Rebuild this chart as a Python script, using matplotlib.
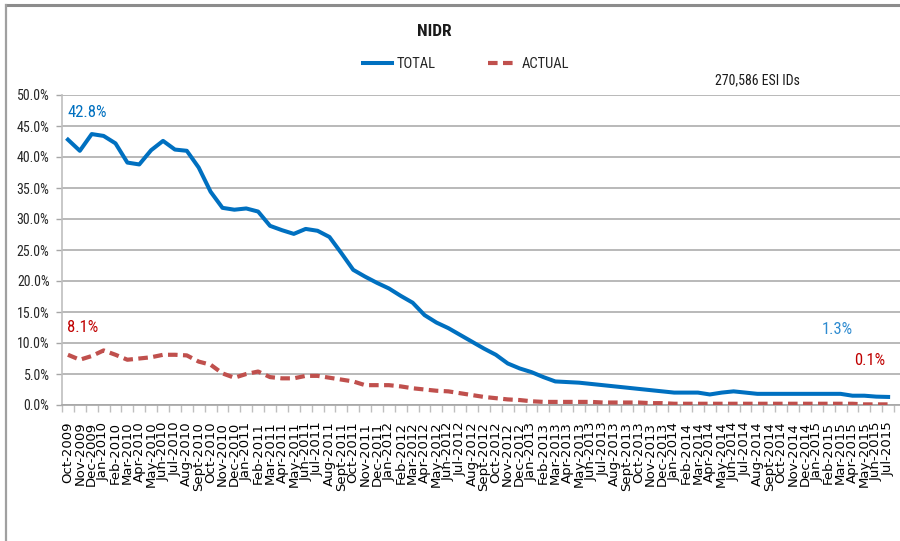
import numpy as np
import matplotlib
matplotlib.use("Agg")
import matplotlib.pyplot as plt
from matplotlib.lines import Line2D
from matplotlib.ticker import FixedLocator, PercentFormatter
from matplotlib import font_manager

#=========================================================================================
month_names = ['Jan', 'Feb', 'Mar', 'Apr', 'May', 'Jun', 'Jul', 'Aug', 'Sept', 'Oct', 'Nov', 'Dec']
months = []
for year in range(2009, 2016):
    for m, name in enumerate(month_names):
        if (year == 2009 and m < 9) or (year == 2015 and m > 6):
            continue
        months.append(name + '-' + str(year))

total = [42.8, 41.0, 43.7, 43.4, 42.2, 39.1, 38.8, 41.1, 42.6, 41.2,
         41.0, 38.3, 34.4, 31.8, 31.5, 31.7, 31.2, 28.9, 28.2, 27.6,
         28.4, 28.1, 27.1, 24.5, 21.8, 20.7, 19.7, 18.8, 17.6, 16.5,
         14.5, 13.3, 12.4, 11.3, 10.2, 9.1, 8.1, 6.7, 5.9, 5.3,
         4.5, 3.8, 3.7, 3.6, 3.4, 3.2, 3.0, 2.8, 2.6, 2.4,
         2.2, 2.0, 2.0, 2.0, 1.7, 2.0, 2.2, 2.0, 1.8, 1.8,
         1.8, 1.8, 1.8, 1.8, 1.8, 1.8, 1.5, 1.5, 1.35, 1.3]

actual = [8.1, 7.3, 7.9, 8.8, 8.1, 7.3, 7.5, 7.7, 8.1, 8.1,
          8.0, 7.0, 6.5, 5.1, 4.4, 5.0, 5.4, 4.5, 4.3, 4.3,
          4.7, 4.7, 4.4, 4.1, 3.8, 3.2, 3.2, 3.2, 3.0, 2.7,
          2.5, 2.3, 2.2, 1.9, 1.6, 1.3, 1.1, 0.9, 0.8, 0.6,
          0.5, 0.5, 0.5, 0.5, 0.5, 0.4, 0.4, 0.4, 0.4, 0.3,
          0.3, 0.2, 0.2, 0.2, 0.2, 0.2, 0.2, 0.2, 0.2, 0.2,
          0.2, 0.2, 0.2, 0.2, 0.2, 0.2, 0.2, 0.1, 0.1, 0.1]

title = 'NIDR'
note = '270,586 ESI IDs'

blue = '#0070C0'
red = '#C0504D'
dark_red = '#C00000'

#=========================================================================================
# pick a narrow face if one is installed
installed = {f.name for f in font_manager.fontManager.ttflist}
narrow_face = None
for name in ['Liberation Sans Narrow', 'DejaVu Sans Condensed', 'Roboto Condensed', 'Open Sans Condensed']:
    if name in installed:
        narrow_face = name
        break
narrow = [narrow_face, 'DejaVu Sans'] if narrow_face else ['DejaVu Sans']
stretch = 'normal' if narrow_face else 'condensed'

fig = plt.figure(figsize=(9, 5.41), dpi=100)
ax = fig.add_axes([62 / 900, 136 / 541, 1 - 62 / 900, 310 / 541])

x = np.arange(len(months))
ax.plot(x, total, color=blue, linewidth=2.9, solid_joinstyle='round', label='TOTAL', zorder=3)
ax.plot(x, actual, color=red, linewidth=3.0, linestyle=(0, (2.3, 1.3)), dash_capstyle='butt',
        label='ACTUAL', zorder=3)

ax.set_xlim(-0.5, 70.0)
ax.set_ylim(0, 50)
ax.yaxis.set_major_locator(FixedLocator(np.arange(0, 50.1, 5)))
ax.yaxis.set_major_formatter(PercentFormatter(decimals=1))
ax.grid(axis='y', color='#a6a6a6', linewidth=1.1)
ax.set_axisbelow(True)

ax.set_xticks(x)
ax.set_xticklabels(months, rotation=90, family='DejaVu Sans', fontsize=9.5, va='top')
ax.set_xticks(np.arange(-0.5, 70, 1), minor=True)
ax.tick_params(axis='x', which='major', length=0, pad=12)
ax.tick_params(axis='x', which='minor', length=5, color='#bfbfbf', width=1)
ax.tick_params(axis='y', length=4, color='#a6a6a6', width=1, pad=5)
for lbl in ax.get_yticklabels():
    lbl.set_family(narrow)
    lbl.set_stretch(stretch)
    lbl.set_fontsize(10)
    lbl.set_color('#262626')

for side in ['top', 'right']:
    ax.spines[side].set_visible(False)
ax.spines['left'].set_color('#bfbfbf')
ax.spines['bottom'].set_color('#a6a6a6')
ax.spines['left'].set_linewidth(1.2)
ax.spines['bottom'].set_linewidth(1.2)

#----------------------------------------------
txt = dict(family=narrow, stretch=stretch, fontsize=12)
ax.annotate(f'{total[0]:.1f}%', xy=(x[0], total[0]), xytext=(0, 27), textcoords='offset pixels',
            color=blue, ha='left', va='center', **txt)
ax.annotate(f'{actual[0]:.1f}%', xy=(x[0], actual[0]), xytext=(-1, 27), textcoords='offset pixels',
            color=dark_red, ha='left', va='center', **txt)
ax.annotate(f'{total[-1]:.1f}%', xy=(x[-1], total[-1]), xytext=(-51, 67), textcoords='offset pixels',
            color='#2E8BD0', ha='center', va='center', **txt)
ax.annotate(f'{actual[-1]:.1f}%', xy=(x[-1], actual[-1]), xytext=(-18, 44), textcoords='offset pixels',
            color=dark_red, ha='center', va='center', **txt)

#----------------------------------------------
fig.text(434 / 900, 1 - 31 / 541, title, family=narrow, stretch=stretch, fontsize=12.5,
         fontweight='semibold', ha='center', va='center', color='#1a1a1a')
fig.text(757 / 900, 1 - 80 / 541, note, family=narrow, stretch=stretch, fontsize=10,
         ha='center', va='center', color='#1a1a1a')
leg = fig.legend(loc='center', bbox_to_anchor=(466 / 900, 1 - 64 / 541), ncol=2, frameon=False,
                 handlelength=2.0, columnspacing=3.6, handletextpad=0.3,
                 prop={'family': narrow, 'stretch': stretch, 'size': 10.5})
for t in leg.get_texts():
    t.set_color('#262626')

# chart frame
fig.add_artist(Line2D([6 / 900, 1], [1 - 5 / 541, 1 - 5 / 541], color='#8c8c8c', linewidth=2.2))
fig.add_artist(Line2D([6 / 900, 6 / 900], [0, 1 - 5 / 541], color='#a0a0a0', linewidth=1.6))

fig.savefig('out.png', dpi=100)
